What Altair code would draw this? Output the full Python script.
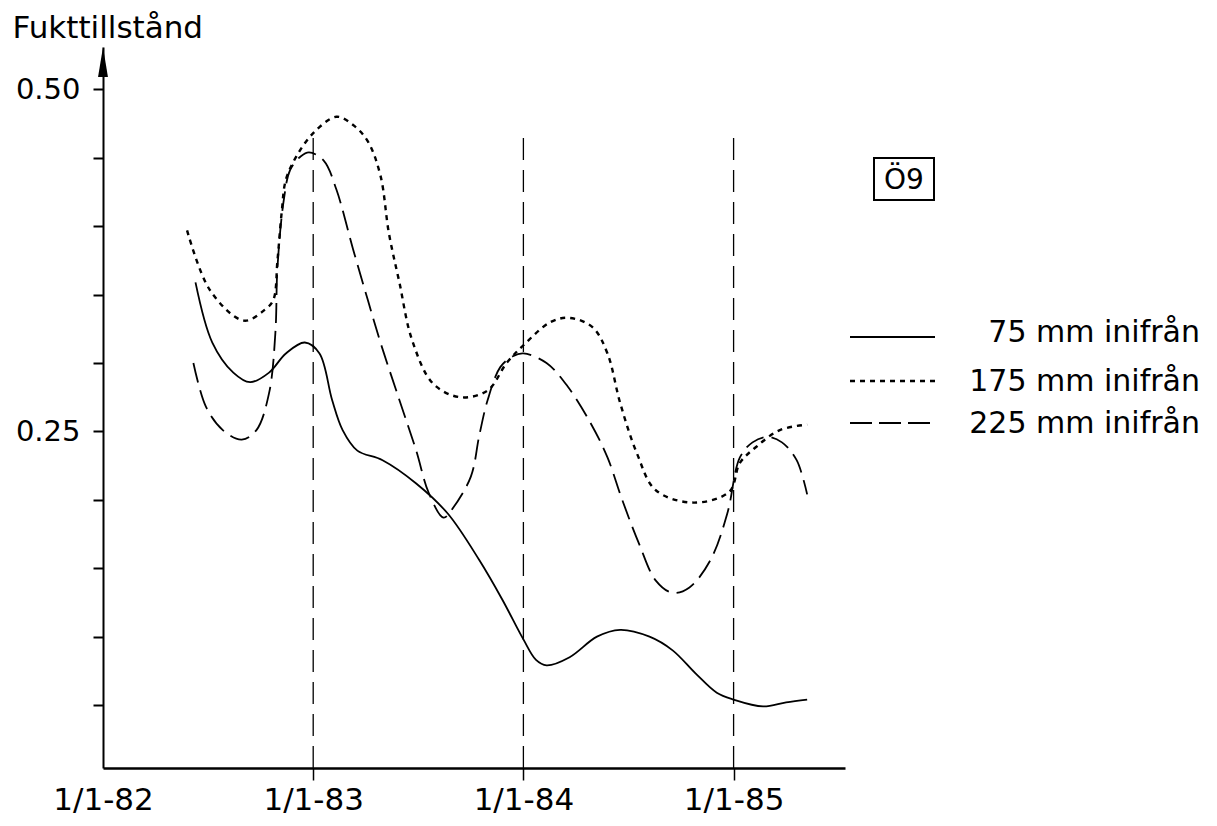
import altair as alt
import pandas as pd

# ---- data (x = year as decimal, y = moisture state) ----
t_75 = [1982.44, 1982.52, 1982.62, 1982.70, 1982.79, 1982.87, 1982.96,
        1983.03, 1983.09, 1983.14, 1983.21, 1983.33, 1983.49, 1983.64, 1983.79, 1983.90,
        1984.00, 1984.06, 1984.11, 1984.22, 1984.35, 1984.46, 1984.60, 1984.71, 1984.82, 1984.92,
        1985.00, 1985.14, 1985.25, 1985.35]
v_75 = [0.359, 0.315, 0.293, 0.286, 0.293, 0.307, 0.315,
        0.307, 0.273, 0.251, 0.236, 0.229, 0.212, 0.190, 0.156, 0.127,
        0.098, 0.083, 0.079, 0.085, 0.100, 0.105, 0.100, 0.090, 0.073, 0.059,
        0.054, 0.049, 0.052, 0.054]

t_175 = [1982.40, 1982.51, 1982.67, 1982.77, 1982.81, 1982.83, 1982.85, 1982.87, 1982.92,
         1983.00, 1983.11, 1983.19, 1983.26, 1983.32, 1983.36, 1983.41, 1983.47, 1983.57, 1983.70, 1983.83, 1983.92,
         1984.00, 1984.13, 1984.22, 1984.33, 1984.40, 1984.46, 1984.54, 1984.63, 1984.81, 1984.98,
         1985.03, 1985.11, 1985.22, 1985.35]
v_175 = [0.397, 0.353, 0.331, 0.339, 0.346, 0.375, 0.410, 0.434, 0.451,
         0.468, 0.480, 0.474, 0.462, 0.437, 0.395, 0.359, 0.317, 0.285, 0.275, 0.280, 0.300,
         0.313, 0.330, 0.333, 0.326, 0.307, 0.271, 0.234, 0.207, 0.198, 0.206,
         0.227, 0.239, 0.251, 0.255]

t_225 = [1982.43, 1982.49, 1982.57, 1982.66, 1982.73, 1982.79, 1982.82, 1982.83, 1982.86, 1982.89, 1982.94, 1982.98,
         1983.05, 1983.11, 1983.19, 1983.26, 1983.32, 1983.41, 1983.49, 1983.55, 1983.62, 1983.66, 1983.75,
         1983.79, 1983.83, 1983.89, 1983.95,
         1984.00, 1984.11, 1984.21, 1984.32, 1984.40, 1984.47, 1984.55, 1984.63, 1984.71, 1984.79, 1984.89, 1984.97,
         1985.03, 1985.09, 1985.16, 1985.23, 1985.30, 1985.35]
v_225 = [0.300, 0.268, 0.251, 0.244, 0.251, 0.278, 0.322, 0.370, 0.419, 0.441, 0.451, 0.454,
         0.448, 0.427, 0.383, 0.346, 0.315, 0.273, 0.236, 0.205, 0.187, 0.193, 0.217,
         0.247, 0.273, 0.297, 0.305,
         0.307, 0.300, 0.283, 0.256, 0.231, 0.200, 0.168, 0.141, 0.132, 0.136, 0.156, 0.190,
         0.231, 0.242, 0.246, 0.242, 0.229, 0.204]

series_labels = ["75 mm inifrån", "175 mm inifrån", "225 mm inifrån"]
tick_years = [1982, 1983, 1984, 1985]
marker_years = [1983, 1984, 1985]
marker_top = 0.465
y_ticks = [0.05, 0.10, 0.15, 0.20, 0.25, 0.30, 0.35, 0.40, 0.45, 0.50]
y_title = "Fukttillstånd"
panel_label = "Ö9"

FONT = "DejaVu Sans"

# ---- tables ----
df_75 = pd.DataFrame({"t": t_75, "v": v_75})
df_175 = pd.DataFrame({"t": t_175, "v": v_175})
df_225 = pd.DataFrame({"t": t_225, "v": v_225})
df_mark = pd.DataFrame({"t": marker_years, "v": [0.004] * len(marker_years), "v2": [marker_top] * len(marker_years)})
one = pd.DataFrame({"k": [0]})

xscale = alt.Scale(domain=[1982, 1985.53], nice=False, zero=False)
yscale = alt.Scale(domain=[0.004, 0.531], nice=False, zero=False)

xaxis = alt.Axis(values=tick_years, labelExpr="'1/1-' + (datum.value - 1900)", title=None,
                 grid=False, domainColor="black", domainWidth=2.5, tickColor="black", tickWidth=1.5,
                 tickSize=12, tickOpacity={"condition": {"test": "datum.value == 1982", "value": 0}, "value": 1},
                 labelFont=FONT, labelFontSize=31, labelColor="black", labelPadding=5,
                 labelFlush=False, labelOverlap=False)
yaxis = alt.Axis(values=y_ticks,
                 labelExpr="abs(datum.value - 0.5) < 0.001 ? '0.50' : (abs(datum.value - 0.25) < 0.001 ? '0.25' : '')",
                 title=y_title, titleAngle=0, titleX=-91, titleY=-10, titleAlign="left",
                 titleBaseline="alphabetic", titleFont=FONT, titleFontSize=31, titleFontWeight="normal",
                 titleColor="black", grid=False, domainColor="black", domainWidth=2, tickColor="black",
                 tickWidth=2, tickSize=10, labelFont=FONT, labelFontSize=29, labelColor="black",
                 labelPadding=13, labelFlush=False, labelOverlap=False)

X = alt.X("t:Q", scale=xscale, axis=xaxis)
Y = alt.Y("v:Q", scale=yscale, axis=yaxis)

INTERP = "catmull-rom"
line75 = alt.Chart(df_75).mark_line(interpolate=INTERP, color="black", strokeWidth=1.8).encode(x=X, y=Y)
line175 = alt.Chart(df_175).mark_line(interpolate=INTERP, color="black", strokeWidth=2.4,
                                      strokeDash=[5, 5]).encode(x=X, y=Y)
line225 = alt.Chart(df_225).mark_line(interpolate=INTERP, color="black", strokeWidth=1.8,
                                      strokeDash=[20, 8]).encode(x=X, y=Y)

markers = alt.Chart(df_mark).mark_rule(color="black", strokeWidth=1.3, strokeDash=[22, 10]).encode(
    x=X, y=Y, y2="v2:Q")

# arrow head on the y axis
arrow = alt.Chart(one).mark_point(shape="M0,-1L0.33,1L-0.33,1Z", size=900, filled=True,
                                  color="black", opacity=1).encode(x=alt.value(0), y=alt.value(15))

# legend (drawn manually, right-aligned labels)
leg_rows_line = [290, 334, 376]
leg_rows_text = [286, 335, 377]
leg_styles = [dict(strokeWidth=1.8), dict(strokeWidth=2.4, strokeDash=[5, 5]), dict(strokeWidth=1.8, strokeDash=[22, 7])]
legend_layers = []
for lab, yl, yt, st in zip(series_labels, leg_rows_line, leg_rows_text, leg_styles):
    legend_layers.append(alt.Chart(one).mark_rule(color="black", **st).encode(
        x=alt.value(747), x2=alt.value(832), y=alt.value(yl)))
    legend_layers.append(alt.Chart(pd.DataFrame({"label": [lab]})).mark_text(
        font=FONT, fontSize=30, align="right", baseline="middle", color="black").encode(
        text="label:N", x=alt.value(1097), y=alt.value(yt)))

box = alt.Chart(one).mark_rect(fill="white", stroke="black", strokeWidth=2).encode(
    x=alt.value(771), x2=alt.value(831), y=alt.value(111), y2=alt.value(153))
box_text = alt.Chart(pd.DataFrame({"label": [panel_label]})).mark_text(
    font=FONT, fontSize=28, align="center", baseline="middle", color="black").encode(
    text="label:N", x=alt.value(801), y=alt.value(134))

chart = alt.layer(markers, line75, line175, line225, arrow, box, box_text, *legend_layers).properties(
    width=742, height=721,
    autosize=alt.AutoSizeParams(type="none"),
    padding={"left": 95, "top": 39, "right": 362, "bottom": 48},
    background="white",
).configure_view(strokeWidth=0)

chart.save("out.html", embed_options={"renderer": "svg", "actions": False})
